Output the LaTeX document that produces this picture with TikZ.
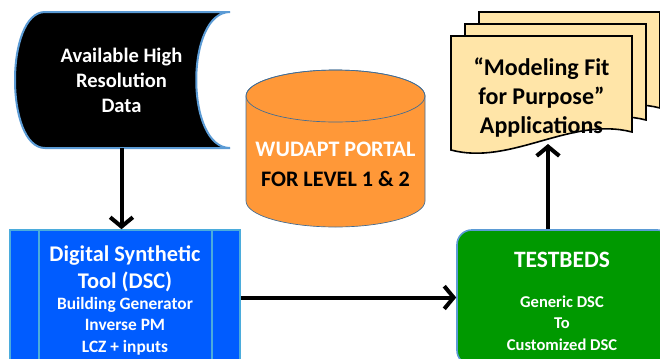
\documentclass[tikz,border=0pt]{standalone}
\usepackage{fontspec}
\setmainfont{Carlito}
\usetikzlibrary{positioning,arrows.meta}
\definecolor{rimblue}{RGB}{91,155,213}
\definecolor{toolblue}{RGB}{0,92,255}
\definecolor{toolrim}{RGB}{75,172,220}
\definecolor{portalorange}{RGB}{255,152,56}
\definecolor{bedgreen}{RGB}{0,153,0}
\definecolor{paper}{RGB}{255,229,168}
\tikzset{
  flow/.style={line width=3pt, -{Straight Barb[length=7pt,width=17pt]}},
  hdr/.style={align=center, inner sep=0pt, text=white, font=\bfseries\fontsize{16.8pt}{20pt}\selectfont},
  subtxt/.style={align=center, inner sep=0pt, text=white, font=\bfseries\fontsize{13pt}{16pt}\selectfont},
  toolbox/.style={draw=toolrim, line width=1.2pt, fill=toolblue, minimum width=172.5pt, minimum height=101.25pt},
  bedbox/.style={draw=rimblue, line width=1.2pt, fill=bedgreen, rounded corners=11pt, minimum width=161.25pt, minimum height=101.25pt},
  pics/appdoc/.style={
    code={
      \draw[draw=black, line width=1.2pt, fill=paper] (0,0) -- (181,0) -- (181,96) .. controls (120,80) and (60,130) .. (0,114) -- cycle;
    }
  }
}
\begin{document}
\begin{tikzpicture}[x=0.75pt, y=-0.75pt]
  \useasboundingbox (0,0) rectangle (660,358);
  \clip (0,0) rectangle (660,358);

  \draw[draw=rimblue, line width=1.5pt, fill=black] (230,12) -- (45,12) .. controls (5,12) and (5,148) .. (45,148) -- (230,148) .. controls (185,148) and (185,12) .. (230,12) -- cycle;
  \node[hdr, font=\bfseries\fontsize{15.4pt}{18.75pt}\selectfont, minimum width=162pt, minimum height=102pt] (data) at (121.5,80) {Available High\\Resolution\\Data};

  \draw[draw=rimblue!70!black, line width=0.5pt, fill=portalorange] (246,96) -- (246,201) arc[start angle=180, end angle=0, x radius=89.5, y radius=26] -- (425,96) arc[start angle=0, end angle=-180, x radius=89.5, y radius=26] -- cycle;
  \draw[draw=rimblue!70!black, line width=0.5pt] (335.5,96) ellipse[x radius=89.5, y radius=26];
  \node[hdr, font=\bfseries\fontsize{16.6pt}{22.5pt}\selectfont] (portal) at (335.5,164) {WUDAPT PORTAL\\\textcolor{black}{FOR LEVEL 1 \& 2}};

  \pic at (479,12) {appdoc};
  \pic at (465,24) {appdoc};
  \pic at (451,36) {appdoc};
  \node[hdr, text=black, font=\bfseries\fontsize{18pt}{22pt}\selectfont] (apps) at (541.5,97.5) {``Modeling Fit\\for Purpose''\\Applications};
  \coordinate (appin) at (548,144);

  \node[toolbox] (dsc) at (125,297.5) {};
  \draw[draw=toolrim, line width=1.2pt] ([xshift=22.5pt]dsc.north west) -- ([xshift=22.5pt]dsc.south west);
  \draw[draw=toolrim, line width=1.2pt] ([xshift=-21.75pt]dsc.north east) -- ([xshift=-21.75pt]dsc.south east);
  \node[hdr] (dsctitle) at (125,268.5) {Digital Synthetic\\Tool (DSC)};
  \node[subtxt] (dscitems) at (125,326) {Building Generator\\Inverse PM\\LCZ + inputs};

  \node[bedbox] (tb) at (564.5,297.5) {};
  \node[hdr, font=\bfseries\fontsize{17.6pt}{20pt}\selectfont] (tbtitle) at (562,260) {TESTBEDS};
  \node[subtxt, font=\bfseries\fontsize{12.4pt}{16pt}\selectfont] (tbitems) at (562,323) {Generic DSC\\To\\Customized DSC};

  \draw[flow] (data.south) -- (data.south |- dsc.north);
  \draw[flow] (dsc.east) -- (tb.west);
  \draw[flow] (tb.north -| appin) -- (appin);
\end{tikzpicture}
\end{document}
